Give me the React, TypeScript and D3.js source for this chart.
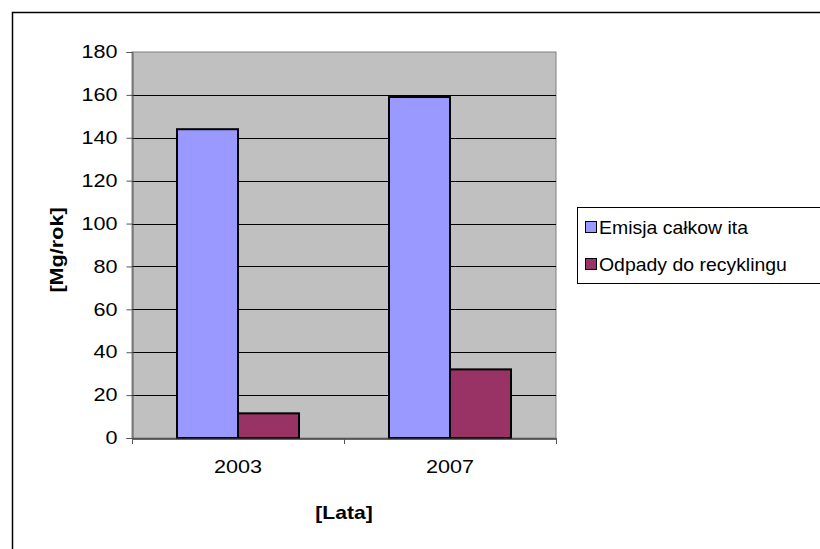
import { useEffect, useRef } from 'react';
import * as d3 from 'd3';

const years = ['2003', '2007'];
const seriesNames = ['Emisja całkow ita', 'Odpady do recyklingu'];
const emisja = [144, 159];
const odpady = [11.5, 32];
const yTicks = [0, 20, 40, 60, 80, 100, 120, 140, 160, 180];
const colors = ['#9999FF', '#993366'];

// the original's lettering is wider than Arial at the same height
const stretch = (sel: any, sx: number) => {
    sel.each(function (this: SVGTextElement) {
        const t = d3.select(this);
        const tx = +(t.attr('x') || 0);
        const ty = +(t.attr('y') || 0);
        const prev = t.attr('transform') || '';
        t.attr('x', 0)
            .attr('y', 0)
            .attr('transform', `${prev} translate(${tx},${ty}) scale(${sx},1)`);
    });
};

const App = () => {
    const svgRef = useRef<SVGSVGElement>(null);

    useEffect(() => {
        const svg = d3.select(svgRef.current);
        svg.selectAll('*').remove();

        const width = 820;
        const height = 549;
        const plot = { left: 132, right: 556, top: 52, bottom: 438 };
        const font = 'Liberation Sans, Arial, sans-serif';

        // outer frame
        svg.append('rect')
            .attr('x', 12.5)
            .attr('y', 12.5)
            .attr('width', width)
            .attr('height', height)
            .attr('fill', '#fff')
            .attr('stroke', '#000')
            .attr('stroke-width', 1.5);

        const x = d3.scaleBand().domain(years).range([plot.left, plot.right]);
        const y = d3.scaleLinear().domain([0, 180]).range([plot.bottom, plot.top]);

        svg.append('rect')
            .attr('x', plot.left)
            .attr('y', plot.top)
            .attr('width', plot.right - plot.left)
            .attr('height', plot.bottom - plot.top)
            .attr('fill', '#C0C0C0')
            .attr('stroke', '#808080')
            .attr('stroke-width', 1);

        // gridlines
        svg.append('g')
            .selectAll('line')
            .data(yTicks.filter((t) => t > 0 && t < 180))
            .enter()
            .append('line')
            .attr('x1', plot.left)
            .attr('x2', plot.right)
            .attr('y1', (d) => Math.round(y(d)) + 0.5)
            .attr('y2', (d) => Math.round(y(d)) + 0.5)
            .attr('stroke', '#000')
            .attr('stroke-width', 1);

        // bars
        const barW = 61;
        const data = years.map((yr, i) => [emisja[i], odpady[i]]);
        years.forEach((yr, i) => {
            const cx = (x(yr) as number) + x.bandwidth() / 2;
            data[i].forEach((v, s) => {
                const x0 = cx - barW + s * barW;
                svg.append('rect')
                    .attr('x', x0)
                    .attr('y', y(v))
                    .attr('width', barW)
                    .attr('height', plot.bottom - y(v))
                    .attr('fill', colors[s])
                    .attr('stroke', '#000')
                    .attr('stroke-width', 2);
            });
        });

        // y axis
        const yAxis = svg.append('g')
            .attr('transform', `translate(${plot.left + 0.5},0)`)
            .call(d3.axisLeft(y).tickValues(yTicks).tickSize(6).tickPadding(9));
        yAxis.select('.domain').attr('stroke', '#555');
        yAxis.selectAll('.tick line').attr('stroke', '#555');
        const yText = yAxis.selectAll('text')
            .attr('font-family', font)
            .attr('font-size', 18)
            .attr('fill', '#000');
        stretch(yText, 1.2);

        // x axis
        const xAxis = svg.append('g')
            .attr('transform', `translate(0,${plot.bottom + 0.5})`)
            .call(d3.axisBottom(x).tickSize(0).tickPadding(22));
        xAxis.select('.domain').attr('stroke', '#333').attr('stroke-width', 1.5);
        const xText = xAxis.selectAll('text')
            .attr('font-family', font)
            .attr('font-size', 18)
            .attr('fill', '#000');
        stretch(xText, 1.2);
        svg.append('g')
            .selectAll('line')
            .data([plot.left, (plot.left + plot.right) / 2, plot.right])
            .enter()
            .append('line')
            .attr('x1', (d) => d + 0.5)
            .attr('x2', (d) => d + 0.5)
            .attr('y1', plot.bottom)
            .attr('y2', plot.bottom + 6)
            .attr('stroke', '#555');

        // axis titles
        const yTitle = svg.append('text')
            .attr('transform', 'rotate(-90)')
            .attr('x', -250)
            .attr('y', 63)
            .attr('text-anchor', 'middle')
            .attr('font-family', font)
            .attr('font-size', 18)
            .attr('font-weight', 'bold')
            .text('[Mg/rok]');
        stretch(yTitle, 1.2);

        const xTitle = svg.append('text')
            .attr('x', (plot.left + plot.right) / 2)
            .attr('y', 519)
            .attr('text-anchor', 'middle')
            .attr('font-family', font)
            .attr('font-size', 18)
            .attr('font-weight', 'bold')
            .text('[Lata]');
        stretch(xTitle, 1.17);

        // legend
        const legend = svg.append('g').attr('transform', 'translate(577,207)');
        legend.append('rect')
            .attr('x', 0.5)
            .attr('y', 0.5)
            .attr('width', 243)
            .attr('height', 76)
            .attr('fill', '#fff')
            .attr('stroke', '#000')
            .attr('stroke-width', 1);
        seriesNames.forEach((name, i) => {
            const row = legend.append('g').attr('transform', `translate(8, ${20 + i * 37})`);
            row.append('rect')
                .attr('x', 0.5)
                .attr('y', -5.5)
                .attr('width', 11)
                .attr('height', 11)
                .attr('fill', colors[i])
                .attr('stroke', '#000')
                .attr('stroke-width', 1);
            const label = row.append('text')
                .attr('x', 14)
                .attr('y', 7)
                .attr('font-family', font)
                .attr('font-size', 18)
                .text(name);
            stretch(label, 1.08);
        });
    }, []);

    return (
        <svg
            ref={svgRef}
            width={820}
            height={549}
            style={{ position: 'absolute', left: 0, top: 0 }}
        ></svg>
    );
};

export default App;
